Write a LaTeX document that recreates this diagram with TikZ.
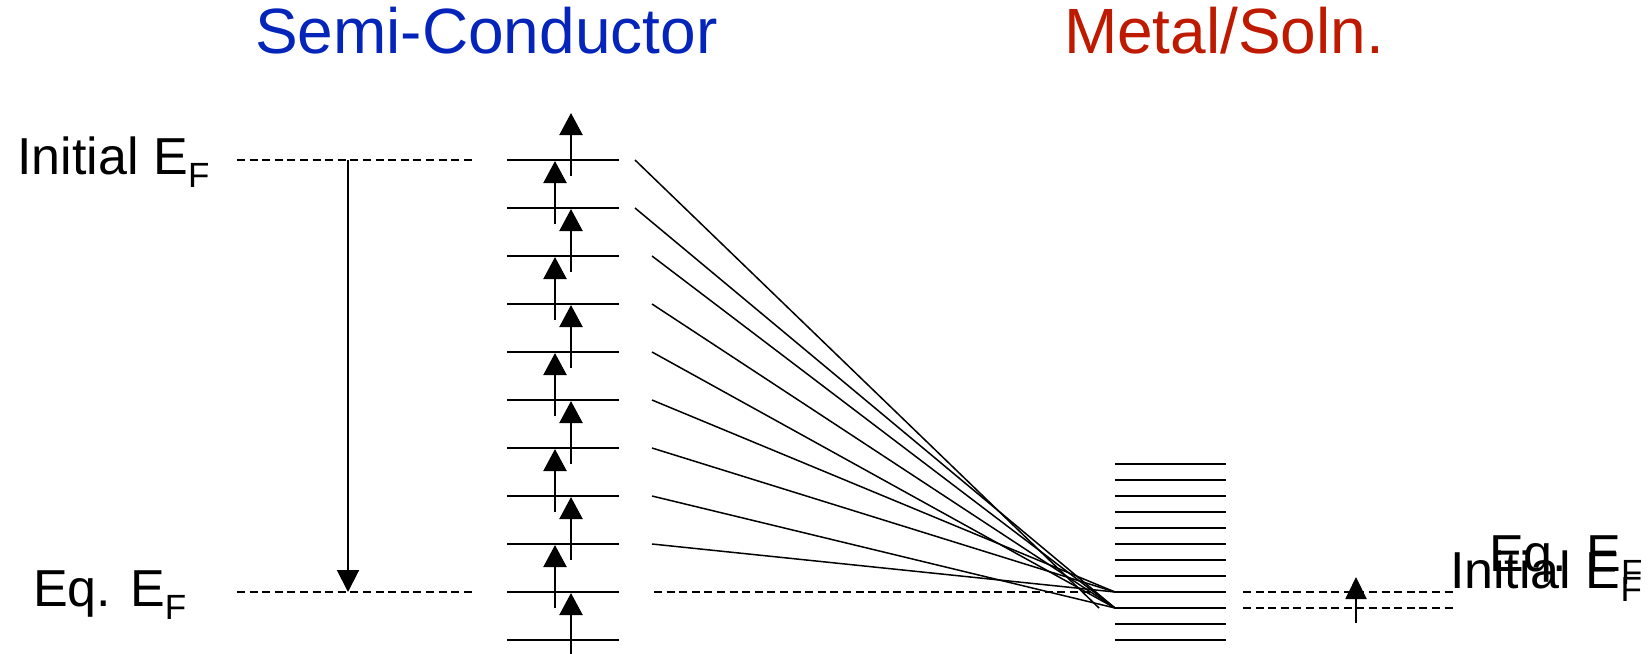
\documentclass[tikz,border=0pt]{standalone}
\usepackage{fontspec}
\setmainfont{Liberation Sans}
\usetikzlibrary{arrows.meta}
\definecolor{scblue}{RGB}{5,36,186}
\definecolor{mred}{RGB}{190,26,0}
\newcommand\mysubF{\raisebox{-6.5pt}{\fontsize{17.5}{17.5}\selectfont F}}
\begin{document}
\begin{tikzpicture}[x=0.5pt,y=-0.5pt,
  lvl/.style={line width=1.25pt},
  slant/.style={line width=0.75pt},
  dsh/.style={line width=0.75pt, dash pattern=on 4pt off 2.3pt},
  uparr/.style={line width=1.1pt,-{Triangle[width=11.5pt,length=11pt]}},
  lbl/.style={anchor=base west, inner sep=0pt, outer sep=0pt, font=\fontsize{26}{30}\selectfont},
  ttl/.style={anchor=base west, inner sep=0pt, outer sep=0pt, font=\fontsize{32}{38}\selectfont}]
\useasboundingbox (0,0) rectangle (1648,653);

% titles
\node[ttl,text=scblue] (tsc) at (255,53) {Semi-Conductor};
\node[ttl,text=mred] (tm) at (1064,53) {Metal/Soln.};

% left labels
\node[lbl] (li) at (17.5,174) {Initial E\mysubF};
\node[lbl] (le) at (33,606) {Eq. E\mysubF};
% right labels
\node[lbl] (ri) at (1450,588) {Initial E\mysubF};
\node[lbl] (re) at (1489,571) {Eq. E\mysubF};

% semiconductor levels
\foreach \k in {0,...,10}{
  \coordinate (sl\k) at (507,{160+48*\k});
  \coordinate (sr\k) at (619,{160+48*\k});
  \draw[lvl] (sl\k) -- (sr\k);
}
% electron arrows
\foreach \k in {-1,1,3,5,7,9}{
  \coordinate (rt\k) at (571,{161+48*\k});
  \coordinate (rb\k) at (571,{224+48*\k});
  \draw[uparr] (rb\k) -- (rt\k);
}
\foreach \k in {0,2,4,6,8}{
  \coordinate (lt\k) at (555,{161+48*\k});
  \coordinate (lb\k) at (555,{224+48*\k});
  \draw[uparr] (lb\k) -- (lt\k);
}

% metal levels
\foreach \k in {0,...,11}{
  \coordinate (ml\k) at (1115,{464+16*\k});
  \coordinate (mr\k) at (1226,{464+16*\k});
  \draw[lvl] (ml\k) -- (mr\k);
}

% slanted connectors
\coordinate (e0) at (1099,608);
\foreach \k/\sx/\tgt in {0/635/e0, 1/635/ml9, 2/652/ml9, 3/652/ml9, 4/652/ml9, 5/652/ml8, 6/652/ml8, 7/652/ml9, 8/652/ml8}{
  \coordinate (st\k) at (\sx,{160+48*\k});
  \draw[slant] (st\k) -- (\tgt);
}

% dashed Fermi levels
\coordinate (d1a) at (237,160); \coordinate (d1b) at (476,160);
\coordinate (d2a) at (237,592); \coordinate (d2b) at (476,592);
\coordinate (d3a) at (654,592); \coordinate (d3b) at (1090,592);
\coordinate (d4a) at (1243,592); \coordinate (d4b) at (1454,592);
\coordinate (d5a) at (1243,608); \coordinate (d5b) at (1454,608);
\draw[dsh] (d1a) -- (d1b);
\draw[dsh] (d2a) -- (d2b);
\draw[dsh] (d3a) -- (d3b);
\draw[dsh] (d4a) -- (d4b);
\draw[dsh] (d5a) -- (d5b);

% big shift arrow
\coordinate (ba) at (348,160);
\coordinate (bb) at (348,592);
\draw[line width=1pt,-{Triangle[width=11pt,length=11pt]}] (ba) -- (bb);

% small metal arrow
\coordinate (sa) at (1356,623);
\coordinate (sb) at (1356,577);
\draw[line width=1pt,-{Triangle[width=10.5pt,length=11pt]}] (sa) -- (sb);
\end{tikzpicture}
\end{document}
